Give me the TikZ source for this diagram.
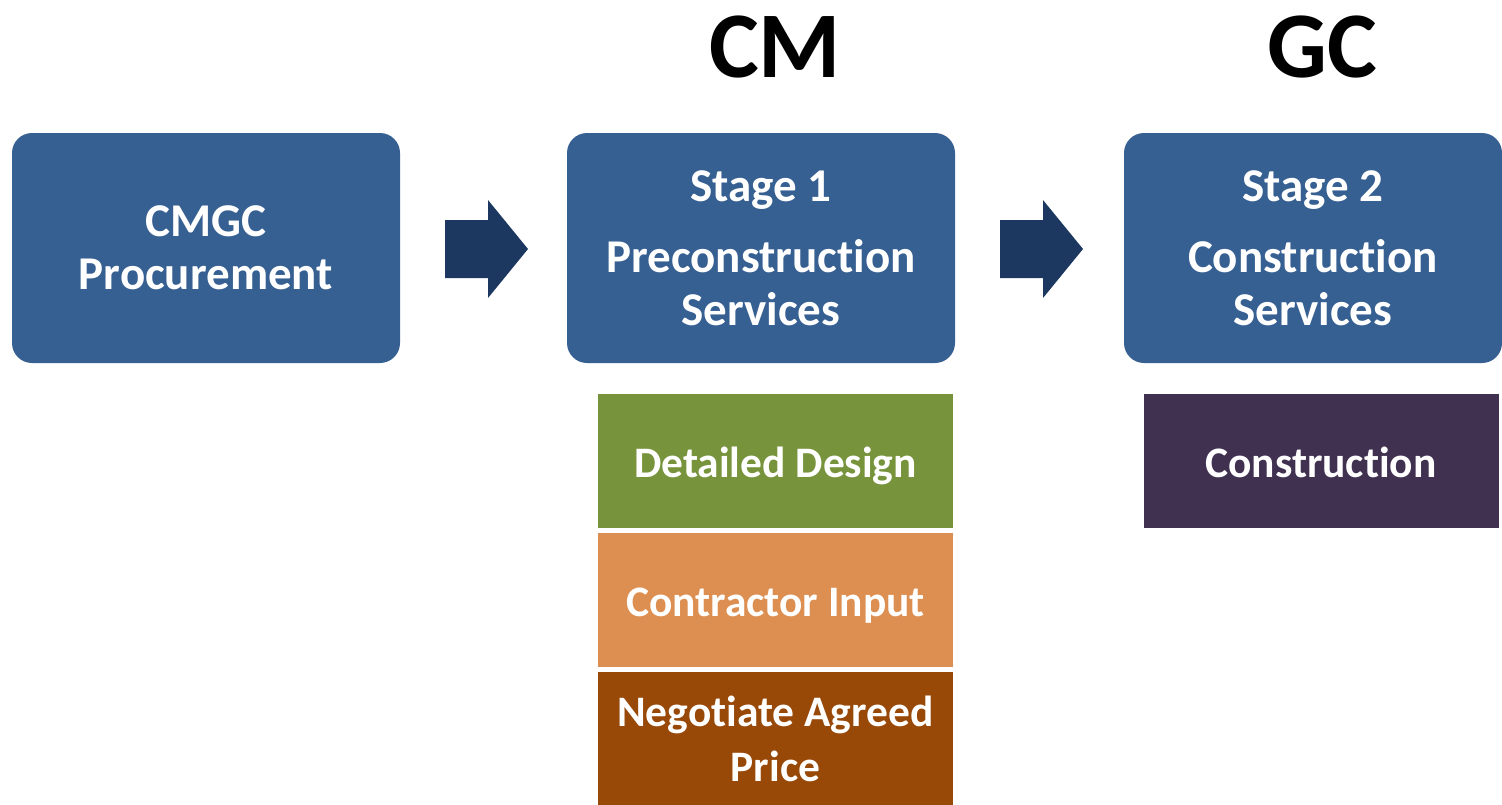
\documentclass[tikz,border=0pt]{standalone}
\usepackage{fontspec}
\setmainfont{Carlito}[Ligatures=NoCommon]
\definecolor{boxblue}{HTML}{376092}
\definecolor{arrowblue}{HTML}{1C3860}
\definecolor{dgreen}{HTML}{77933C}
\definecolor{dorange}{HTML}{DD8F51}
\definecolor{dbrown}{HTML}{984807}
\definecolor{dpurple}{HTML}{403151}
\tikzset{
  stagebox/.style={fill=boxblue, draw=none, rounded corners=20pt, minimum height=230pt, inner sep=0pt, text=white, align=center, font=\bfseries\fontsize{47}{53}\selectfont},
  taskbox/.style={draw=none, minimum width=355pt, minimum height=134pt, inner sep=0pt, text=white, font=\bfseries\fontsize{43.5}{55}\selectfont},
  oneline/.style={text height=32pt, text depth=0pt},
  role/.style={font=\bfseries\fontsize{94}{100}\selectfont, text=black, inner sep=0pt},
  flowarrow/.style={fill=arrowblue, draw=none}
}
\begin{document}
\begin{tikzpicture}[x=1pt,y=-1pt]
\useasboundingbox (0,0) rectangle (1502,804);
\clip (0,0) rectangle (1502,804);
% role headings
\node[role] (cm) at (775,47) {CM};
\node[role] (gc) at (1322,47) {GC};
% stage boxes
\node[stagebox, minimum width=388pt] (proc) at (206,248) {CMGC\\Procurement};
\node[stagebox, minimum width=388pt] (st1) at (761,248) {Stage 1\\[18pt]Preconstruction\\Services};
\node[stagebox, minimum width=378pt] (st2) at (1313,248) {Stage 2\\[18pt]Construction\\Services};
% arrows
\fill[flowarrow] (445,220) -- (488,220) -- (488,200) -- (528,249) -- (488,298) -- (488,278) -- (445,278) -- cycle;
\fill[flowarrow] (1000,220) -- (1043,220) -- (1043,200) -- (1083,249) -- (1043,298) -- (1043,278) -- (1000,278) -- cycle;
% task boxes
\node[taskbox, oneline, fill=dgreen] (design) at (775.5,461) {Detailed Design};
\node[taskbox, oneline, fill=dorange] (input) at (775.5,600) {Contractor Input};
\node[taskbox, align=center, fill=dbrown] (price) at (775.5,739) {Negotiate Agreed\\Price};
\node[taskbox, oneline, fill=dpurple] (constr) at (1321,461) {Construction};
\end{tikzpicture}
\end{document}
